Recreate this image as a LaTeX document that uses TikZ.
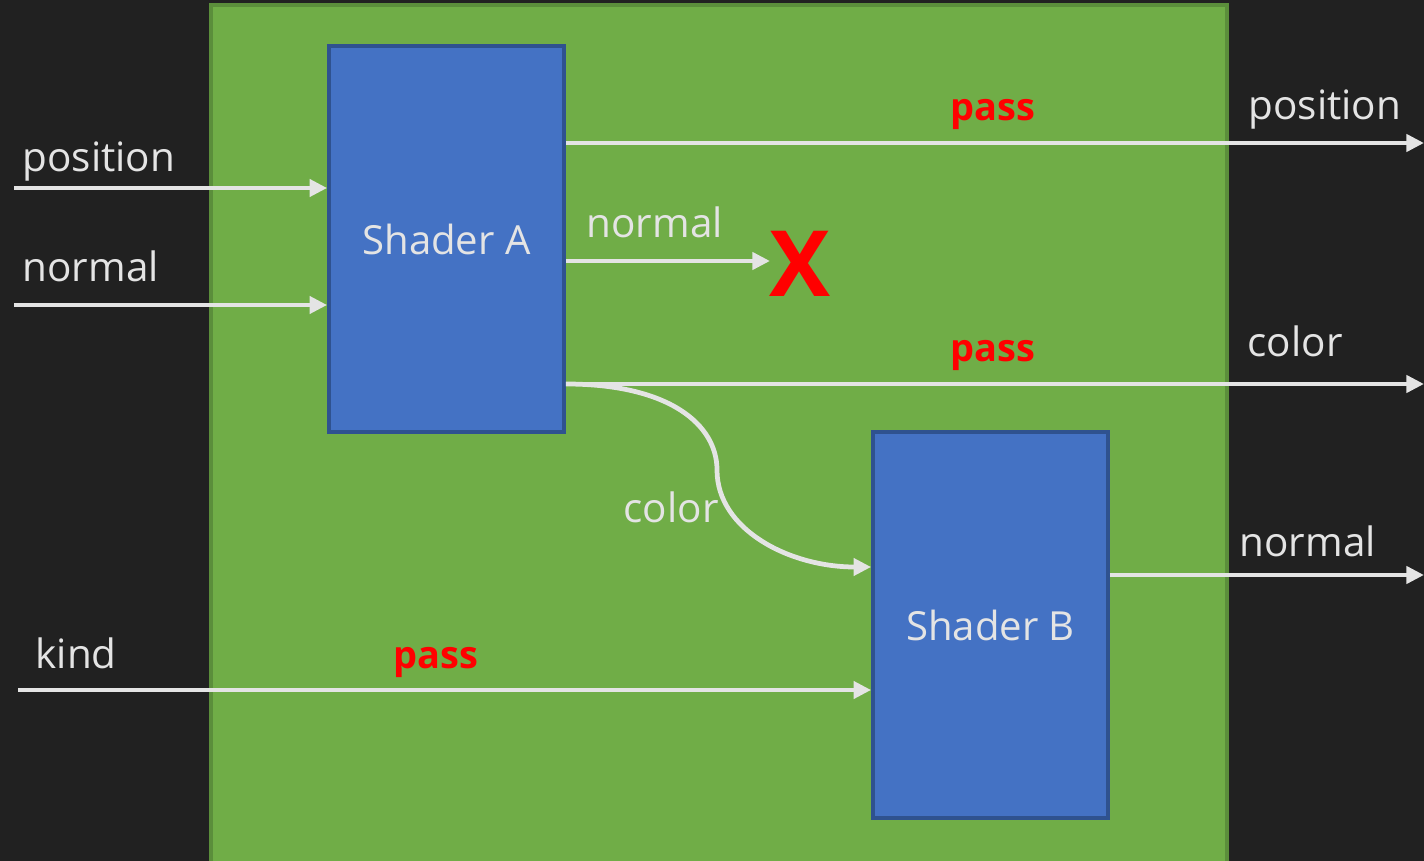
\documentclass[tikz,border=0pt]{standalone}
\usepackage{fontspec}
\setmainfont{Open Sans}
\usetikzlibrary{
    arrows.meta,
    positioning,
    calc
}
\definecolor{bg dark}{HTML}{212121}
\definecolor{stage green}{HTML}{70AD47}
\definecolor{stage edge}{HTML}{5B8E3B}
\definecolor{shader blue}{HTML}{4472C4}
\definecolor{shader edge}{HTML}{2F528F}
\definecolor{wire gray}{HTML}{E4E4E4}
\tikzset{
    % Colors
    label color/.style={wire gray},
    pass color/.style={red},
    %
    % Boxes
    stage/.style={fill=stage green,draw=stage edge,line width=1pt},
    shader/.style={rectangle,fill=shader blue,draw=shader edge,line width=1pt,
        minimum width=2.35cm,minimum height=3.86cm,inner sep=0pt,
        text=wire gray,font=\fontsize{11.4}{14}\selectfont},
    %
    % Texts
    lbl/.style={label color,inner sep=0pt,anchor=base west},
    passlbl/.style={pass color,inner sep=0pt,anchor=base west,font=\fontsize{10.8}{13}\selectfont\bfseries},
    cross/.style={pass color,inner sep=0pt,anchor=base,font=\fontsize{26}{28}\selectfont\bfseries},
    %
    % Arrows
    arrow tip/.tip={Triangle[length=5pt,width=4.8pt]},
    wire/.style={draw=wire gray,line width=1.35pt},
    arr/.style={wire,->,>={arrow tip}}
}
\tikzstyle{every node}=[font=\fontsize{11.5}{14}\selectfont]

\begin{document}
\begin{tikzpicture}[x=0.01cm,y=-0.01cm]
    \fill[bg dark] (0,0) rectangle (1424,861);
    \useasboundingbox (0,0) rectangle (1424,861);
    \draw[stage] (211,5) rectangle (1227,870);

    \node[shader] (shA) at (446.5,239) {Shader A};
    \node[shader] (shB) at (990.5,625) {Shader B};

    % inputs
    \coordinate (posin) at (14,188);
    \coordinate (norin) at (14,305);
    \coordinate (kindin) at (18,690);
    \node[lbl] (lposin) at (22,172) {position};
    \node[lbl] (lnorin) at (22,282) {normal};
    \node[lbl] (lkind) at (35,668) {kind};
    \draw[arr] (posin) -- (posin -| shA.west);
    \draw[arr] (norin) -- (norin -| shA.west);
    \draw[arr] (kindin) -- (kindin -| shB.west);
    \node[passlbl] (pkind) at (393,668) {pass};

    % outputs of shader A
    \coordinate (posout) at (1424,143);
    \coordinate (colout) at (1424,384);
    \coordinate (dropin) at (770,261);
    \draw[arr] (shA.east |- posout) -- (posout);
    \node[passlbl] (ppos) at (950,121) {pass};
    \node[lbl] (lposout) at (1248,120) {position};

    \draw[arr] (shA.east |- dropin) -- (dropin);
    \node[lbl] (lnorA) at (586,238) {normal};
    \node[cross] (drop) at (800,297) {X};

    \draw[arr] (shA.east |- colout) .. controls (670,384) and (717,425) .. (717,470)
        .. controls (717,530) and (790,567) .. ($(shB.west)+(0,-58)$);
    \draw[arr] (shA.east |- colout) -- (colout);
    \node[passlbl] (pcol) at (950,362) {pass};
    \node[lbl] (lcolout) at (1247,357) {color};
    \node[lbl] (lcolB) at (623,523) {color};

    % output of shader B
    \coordinate (norout) at (1424,575);
    \draw[arr] (shB.east |- norout) -- (norout);
    \node[lbl] (lnorout) at (1239,557) {normal};
\end{tikzpicture}
\end{document}
